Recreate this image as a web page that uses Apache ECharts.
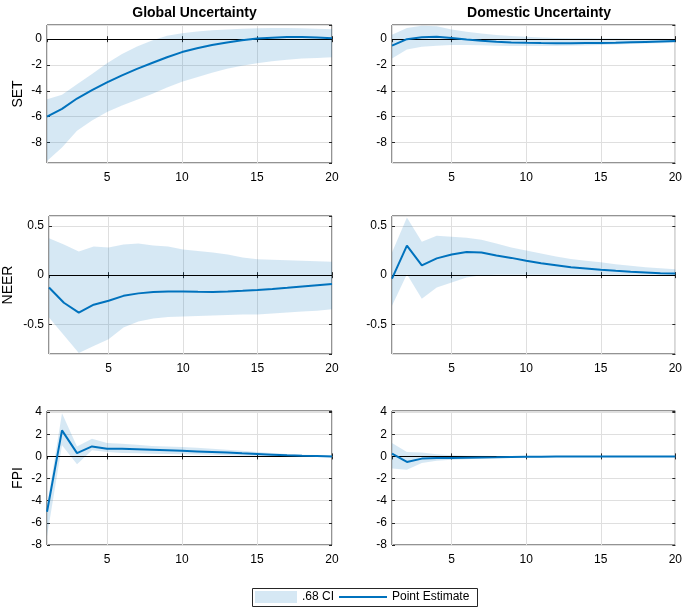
<!DOCTYPE html>
<html>
<head>
<meta charset="utf-8">
<script src="https://cdn.jsdelivr.net/npm/echarts@6/dist/echarts.min.js"></script>
<style>
html,body{margin:0;padding:0;background:#fff;}
#chart{width:685px;height:609px;}
</style>
</head>
<body>
<div id="chart"></div>
<script>
// Horizon (x) values
const horizon = [1,2,3,4,5,6,7,8,9,10,11,12,13,14,15,16,17,18,19,20];
const columnTitles = ['Global Uncertainty', 'Domestic Uncertainty'];
const rowNames = ['SET', 'NEER', 'FPI'];

// SET - Global
const setGlobalPoint = [-6.0,-5.4,-4.6,-3.95,-3.35,-2.8,-2.3,-1.85,-1.4,-1.0,-0.7,-0.45,-0.25,-0.08,0.05,0.12,0.16,0.16,0.13,0.07];
const setGlobalUpper = [-4.65,-4.3,-3.5,-2.7,-1.87,-1.14,-0.57,-0.1,0.26,0.47,0.6,0.7,0.75,0.8,0.84,0.86,0.86,0.84,0.81,0.78];
const setGlobalLower = [-9.45,-8.4,-7.1,-6.3,-5.65,-5.15,-4.7,-4.25,-3.75,-3.3,-2.95,-2.6,-2.3,-2.05,-1.87,-1.72,-1.6,-1.5,-1.45,-1.4];
// SET - Domestic
const setDomPoint = [-0.5,0.0,0.15,0.18,0.1,-0.02,-0.12,-0.2,-0.25,-0.28,-0.3,-0.31,-0.31,-0.3,-0.29,-0.27,-0.24,-0.21,-0.18,-0.15];
const setDomUpper = [0.35,0.87,1.05,1.0,0.75,0.58,0.45,0.33,0.25,0.18,0.13,0.1,0.08,0.07,0.06,0.05,0.04,0.03,0.03,0.02];
const setDomLower = [-1.5,-0.8,-0.58,-0.5,-0.45,-0.45,-0.47,-0.5,-0.52,-0.53,-0.53,-0.52,-0.5,-0.48,-0.45,-0.42,-0.38,-0.34,-0.31,-0.28];
// NEER - Global
const neerGlobalPoint = [-0.125,-0.28,-0.38,-0.30,-0.26,-0.21,-0.185,-0.17,-0.165,-0.165,-0.168,-0.17,-0.165,-0.158,-0.15,-0.14,-0.128,-0.115,-0.102,-0.09];
const neerGlobalUpper = [0.375,0.31,0.24,0.29,0.28,0.31,0.32,0.30,0.29,0.26,0.245,0.23,0.21,0.18,0.16,0.155,0.15,0.145,0.14,0.135];
const neerGlobalLower = [-0.43,-0.61,-0.79,-0.72,-0.65,-0.53,-0.47,-0.44,-0.425,-0.42,-0.415,-0.41,-0.405,-0.4,-0.4,-0.39,-0.38,-0.37,-0.36,-0.345];
// NEER - Domestic
const neerDomPoint = [-0.035,0.30,0.10,0.17,0.21,0.235,0.23,0.2,0.175,0.145,0.12,0.1,0.08,0.068,0.055,0.044,0.034,0.027,0.02,0.017];
const neerDomUpper = [0.23,0.585,0.34,0.40,0.39,0.38,0.36,0.32,0.28,0.25,0.22,0.19,0.165,0.145,0.13,0.11,0.095,0.08,0.07,0.06];
const neerDomLower = [-0.31,0.01,-0.24,-0.125,-0.075,-0.025,0.0,0.005,0.005,0.005,0.004,0.004,0.003,0.003,0.003,0.003,0.003,0.003,0.003,0.003];
// FPI - Global
const fpiGlobalPoint = [-5.0,2.35,0.3,0.9,0.7,0.7,0.65,0.6,0.55,0.5,0.45,0.4,0.35,0.28,0.22,0.16,0.1,0.06,0.03,0.0];
const fpiGlobalUpper = [-4.5,3.9,0.9,1.6,1.2,1.15,1.05,0.95,0.9,0.85,0.78,0.7,0.6,0.5,0.4,0.3,0.22,0.15,0.12,0.1];
const fpiGlobalLower = [-7.2,1.0,-0.7,0.55,0.4,0.3,0.28,0.25,0.22,0.2,0.17,0.14,0.1,0.07,0.04,0.01,-0.01,-0.03,-0.04,-0.05];
// FPI - Domestic
const fpiDomPoint = [0.25,-0.5,-0.2,-0.15,-0.15,-0.12,-0.1,-0.08,-0.05,-0.03,-0.02,-0.01,0,0,0,0,0,0,0,0];
const fpiDomUpper = [1.2,0.4,0.35,0.2,0.1,0.07,0.05,0.04,0.03,0.03,0.03,0.02,0.02,0.02,0.02,0.01,0.01,0.01,0.01,0.01];
const fpiDomLower = [-1.1,-1.2,-0.6,-0.4,-0.3,-0.25,-0.2,-0.15,-0.12,-0.1,-0.08,-0.06,-0.05,-0.04,-0.03,-0.02,-0.02,-0.01,-0.01,-0.01];

// y-axis limits per row
const rowYMin = [-9.6, -0.8, -8];
const rowYMax = [1.1, 0.6, 4.1];
const rowSplit = [5, 3, 6];

const panels = [
  {row:0,col:0,point:setGlobalPoint,upper:setGlobalUpper,lower:setGlobalLower},
  {row:0,col:1,point:setDomPoint,upper:setDomUpper,lower:setDomLower},
  {row:1,col:0,point:neerGlobalPoint,upper:neerGlobalUpper,lower:neerGlobalLower},
  {row:1,col:1,point:neerDomPoint,upper:neerDomUpper,lower:neerDomLower},
  {row:2,col:0,point:fpiGlobalPoint,upper:fpiGlobalUpper,lower:fpiGlobalLower},
  {row:2,col:1,point:fpiDomPoint,upper:fpiDomUpper,lower:fpiDomLower}
];

const FONT = 'Liberation Sans, Arial, Helvetica, sans-serif';
const LINE = '#0072BD';
const BAND = 'rgba(0,114,189,0.16)';
const AXC = '#262626';
const GRIDC = '#dfdfdf';

const colLeft = [47, 392];
const colWidth = [285, 284];
const rowTop = [25, 216, 411];
const rowHeight = [138, 138, 134];
const nameGaps = [22, 34, 22];

const grids = [], xAxes = [], yAxes = [], series = [];
panels.forEach((p, i) => {
  grids.push({left: colLeft[p.col], top: rowTop[p.row], width: colWidth[p.col], height: rowHeight[p.row],
    show: true, borderColor: AXC, borderWidth: 1, backgroundColor: 'transparent', containLabel: false});
  const xBase = {gridIndex: i, type: 'value', min: 1, max: 20, splitNumber: 4};
  xAxes.push(Object.assign({}, xBase, {position: 'bottom',
    axisLine: {show: false},
    axisTick: {show: true, inside: true, length: 3, lineStyle: {color: AXC}},
    axisLabel: {show: true, margin: 9, fontSize: 12, color: '#000', fontFamily: FONT, showMinLabel: false},
    splitLine: {show: true, lineStyle: {color: GRIDC, width: 1}}}));
  xAxes.push(Object.assign({}, xBase, {position: 'top',
    axisLine: {show: false},
    axisTick: {show: true, inside: true, length: 3, lineStyle: {color: AXC}},
    axisLabel: {show: false}, splitLine: {show: false}}));
  const yBase = {gridIndex: i, type: 'value', min: rowYMin[p.row], max: rowYMax[p.row], splitNumber: rowSplit[p.row]};
  yAxes.push(Object.assign({}, yBase, {position: 'left',
    name: p.col === 0 ? rowNames[p.row] : '', nameLocation: 'middle', nameGap: nameGaps[p.row],
    nameTextStyle: {fontSize: 14, color: '#000', fontFamily: FONT},
    axisLine: {show: false},
    axisTick: {show: true, inside: true, length: 3, lineStyle: {color: AXC}},
    axisLabel: {show: true, margin: 5, fontSize: 12, color: '#000', fontFamily: FONT,
      showMinLabel: p.row === 2, showMaxLabel: false},
    splitLine: {show: true, lineStyle: {color: GRIDC, width: 1}}}));
  yAxes.push(Object.assign({}, yBase, {position: 'right',
    axisLine: {show: false},
    axisTick: {show: true, inside: true, length: 3, lineStyle: {color: AXC}},
    axisLabel: {show: false}, splitLine: {show: false}}));
  const xi = 2 * i, yi = 2 * i;
  const lower = p.lower, upper = p.upper;
  series.push({type: 'custom', name: '.68 CI', xAxisIndex: xi, yAxisIndex: yi,
    data: horizon.map((h, k) => [h, lower[k], upper[k]]),
    encode: {x: 0, y: [1, 2]}, silent: true, z: 1,
    itemStyle: {color: BAND},
    renderItem: function (params, api) {
      if (params.dataIndexInside !== 0) return null;
      const pts = [];
      for (let k = 0; k < horizon.length; k++) pts.push(api.coord([horizon[k], lower[k]]));
      for (let k = horizon.length - 1; k >= 0; k--) pts.push(api.coord([horizon[k], upper[k]]));
      return {type: 'polygon', shape: {points: pts}, style: {fill: BAND, stroke: null}};
    },
    markLine: {silent: true, symbol: ['none', 'none'], label: {show: false}, z: 2, animation: false,
      lineStyle: {color: '#000', width: 1, type: 'solid'}, data: [{yAxis: 0}]}});
  series.push({type: 'line', name: 'Point Estimate', xAxisIndex: xi, yAxisIndex: yi,
    data: horizon.map((h, k) => [h, p.point[k]]), symbol: 'none', showSymbol: false, silent: true,
    color: LINE, itemStyle: {color: LINE}, lineStyle: {color: LINE, width: 2}, z: 3});
});

const option = {
  animation: false,
  backgroundColor: '#fff',
  textStyle: {fontFamily: FONT},
  title: [
    {text: columnTitles[0], left: 189.5, top: 1, textAlign: 'center',
      textStyle: {fontSize: 14, fontWeight: 'bold', color: '#000', fontFamily: FONT}},
    {text: columnTitles[1], left: 534, top: 1, textAlign: 'center',
      textStyle: {fontSize: 14, fontWeight: 'bold', color: '#000', fontFamily: FONT}}
  ],
  legend: [
    {data: [{name: '.68 CI', icon: 'rect', itemStyle: {color: BAND}}], left: 255, top: 591, padding: 0,
      itemWidth: 42, itemHeight: 12, selectedMode: false,
      textStyle: {fontSize: 12, color: '#000', fontFamily: FONT, padding: [0, 0, 0, 0]}},
    {data: [{name: 'Point Estimate', icon: 'rect', itemStyle: {color: LINE}}], left: 339, top: 591, padding: 0,
      itemWidth: 48, itemHeight: 2, selectedMode: false,
      textStyle: {fontSize: 12, color: '#000', fontFamily: FONT}}
  ],
  graphic: [{type: 'rect', shape: {x: 252.5, y: 588.5, width: 225, height: 18}, z: -1,
    style: {fill: '#fff', stroke: AXC, lineWidth: 1}}],
  grid: grids,
  xAxis: xAxes,
  yAxis: yAxes,
  series: series
};

const chart = echarts.init(document.getElementById('chart'), null, {renderer: 'canvas'});
chart.setOption(option);
</script>
</body>
</html>
